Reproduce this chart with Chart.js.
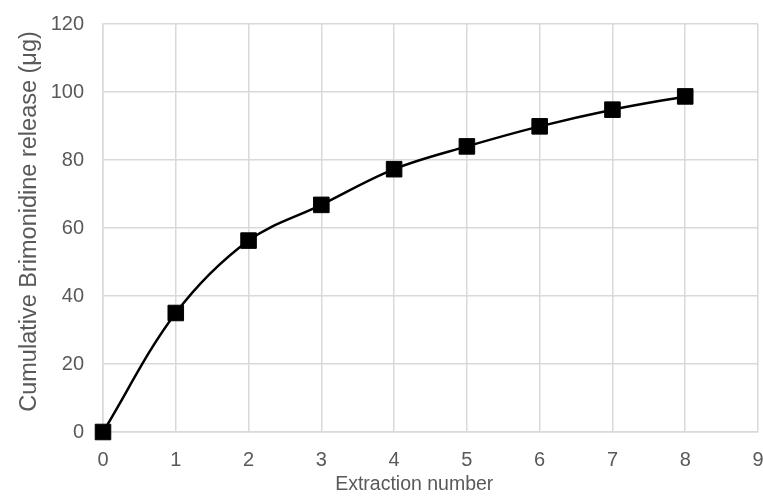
<!DOCTYPE html>
<html>
<head>
<meta charset="utf-8">
<script src="https://cdn.jsdelivr.net/npm/chart.js@4/dist/chart.umd.min.js"></script>
<style>
  html, body { margin: 0; padding: 0; background: #fff; }
  #wrap { width: 763px; height: 503px; }
</style>
</head>
<body>
<div id="wrap"><canvas id="myChart"></canvas></div>
<script>
// extraction number vs cumulative release (ug)
var extractions = [0, 1, 2, 3, 4, 5, 6, 7, 8];
var cumulativeRelease = [0, 35, 56.3, 66.8, 77.3, 84, 89.9, 94.8, 98.7];
var yTicks = [0, 20, 40, 60, 80, 100, 120];
var xTicks = [0, 1, 2, 3, 4, 5, 6, 7, 8, 9];

var points = extractions.map(function (x, i) {
    return { x: x, y: cumulativeRelease[i] };
});

var tickColor = '#595959';
var gridColor = '#d9d9d9';
var fontFamily = 'Liberation Sans, Arial, sans-serif';

new Chart('myChart', {
    type: 'line',
    data: {
        datasets: [{
            data: points,
            borderColor: '#000',
            borderWidth: 2.5,
            tension: 0.35,
            clip: false,
            pointStyle: 'rect',
            pointRadius: 11,
            pointHoverRadius: 11,
            pointBackgroundColor: '#000',
            pointBorderColor: '#000',
            pointBorderWidth: 1
        }]
    },
    options: {
        responsive: true,
        maintainAspectRatio: false,
        animation: false,
        layout: { autoPadding: false, padding: { top: 24, right: 5, left: 0, bottom: 0 } },
        plugins: {
            legend: { display: false },
            tooltip: { enabled: false }
        },
        scales: {
            x: {
                type: 'linear',
                min: 0,
                max: 9,
                afterFit: function (scale) {
                    scale.height = 71;
                    scale.paddingLeft = 0;
                    scale.paddingRight = 0;
                },
                afterBuildTicks: function (scale) {
                    scale.ticks = xTicks.map(function (v) { return { value: v }; });
                },
                grid: { color: gridColor, lineWidth: 1.5, drawTicks: false },
                border: { color: gridColor, width: 1.5 },
                ticks: {
                    color: tickColor,
                    padding: 16,
                    font: { family: fontFamily, size: 20 }
                },
                title: {
                    display: true,
                    text: 'Extraction number      ',
                    color: tickColor,
                    padding: { top: 0, bottom: 7 },
                    font: { family: fontFamily, size: 19.5 }
                }
            },
            y: {
                min: 0,
                max: 120,
                afterFit: function (scale) {
                    scale.width = 103;
                    scale.paddingTop = 0;
                    scale.paddingBottom = 0;
                },
                afterBuildTicks: function (scale) {
                    scale.ticks = yTicks.map(function (v) { return { value: v }; });
                },
                grid: { color: gridColor, lineWidth: 1.5, drawTicks: false },
                border: { color: gridColor, width: 1.5 },
                ticks: {
                    color: tickColor,
                    padding: 19,
                    font: { family: fontFamily, size: 20 }
                },
                title: {
                    display: true,
                    text: '  Cumulative Brimonidine release (\u03bcg)',
                    color: tickColor,
                    padding: { top: 15, bottom: 0 },
                    font: { family: fontFamily, size: 23.5 }
                }
            }
        }
    }
});
</script>
</body>
</html>
